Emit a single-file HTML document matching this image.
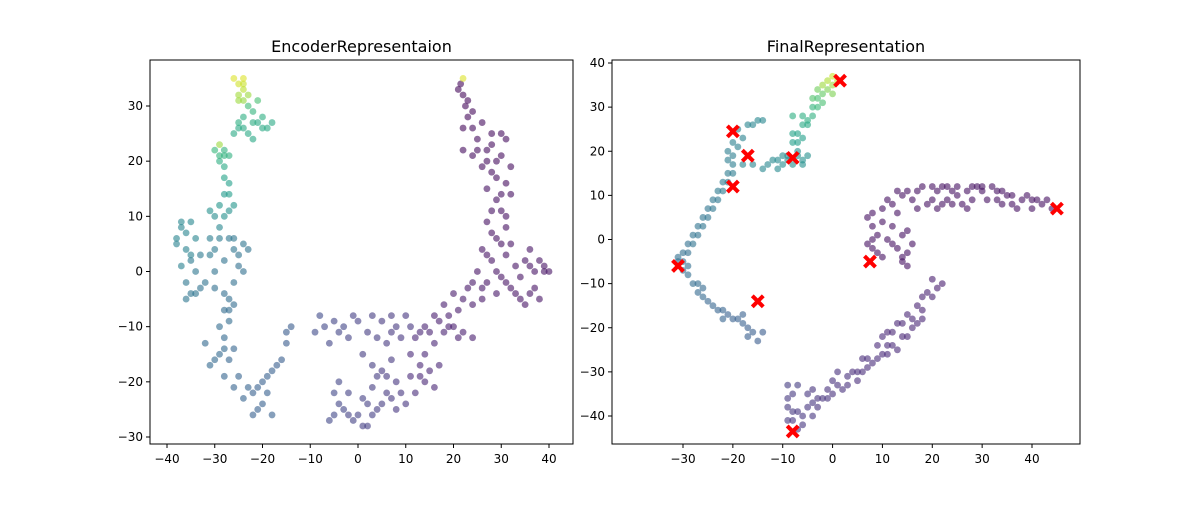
<!DOCTYPE html>
<html><head><meta charset="utf-8"><style>
body{margin:0;background:#fff;font-family:"Liberation Sans","DejaVu Sans",sans-serif}
svg text{font-family:"DejaVu Sans","Liberation Sans",sans-serif}
</style></head><body>
<svg id="fig" width="1200" height="500" xmlns="http://www.w3.org/2000/svg"></svg>
<script>
const leftPoints=[
[21.5,34,.02],[22,32,.02],[22.5,30,.02],[23,28,.02],[22,26,.02],[24,29,.02],[26,27,.03],[28,25,.03],[25,24,.03],[22,22,.03],[24,21,.03],[27,22,.03],[29,20,.03],[26,19,.03],[31,24,.03],[30,21,.03],[28,18,.03],[31,16,.03],[27,15,.04],[29,13,.04],[32,14,.04],[30,11,.04],[27,9,.04],[31,8,.04],[29,6,.04],[26,4,.05],[28,2,.05],[31,3,.05],[33,1,.05],[30,-1,.05],[27,-2,.05],[25,0,.05],[23,-3,.06],[26,-5,.06],[29,-4,.06],[32,-3,.05],[34,-5,.05],[36,-4,.05],[38,-5,.05],[35,2,.05],[37,0,.05],[39,1,.05],[40,0,.05],[36,4,.05],[34,-1,.05],[24,-6,.07],[22,-5,.07],[20,-4,.07],[18,-6,.08],[16,-8,.08],[14,-10,.09],[20,-10,.08],[22,-11,.08],[24,-12,.08],[18,-11,.09],[16,-13,.1],[14,-15,.1],[15,-18,.1],[14,-20,.1],[13,-17,.1],[12,-12,.1],[12,-22,.12],
[21,33,.02],[23,31,.02],[24,26,.03],[25,22,.03],[27,20,.03],[28,23,.03],[30,25,.03],[29,17,.03],[32,19,.03],[30,14,.04],[28,11,.04],[31,10,.04],[28,7,.04],[30,5,.04],[27,3,.05],[32,5,.05],[29,0,.05],[31,-2,.05],[33,-4,.05],[35,-6,.05],[37,-3,.05],[39,0,.05],[38,2,.05],[36,1,.05],[26,-3,.06],[24,-2,.06],[21,-7,.07],[19,-8,.08],[17,-9,.08],[15,-11,.09],[13,-11,.1],[19,-10,.08],[21,-12,.08],[17,-17,.1],[16,-21,.1],[13,-19,.1],[11,-15,.11],[11,-19,.11],
[5,-9,.16],[8,-10,.16],[10,-8,.15],[3,-8,.17],[0,-9,.18],[-3,-10,.2],[-5,-9,.2],[-8,-8,.22],[-9,-11,.22],[-6,-13,.2],[-2,-12,.19],[2,-11,.17],[6,-13,.16],[9,-12,.15],[1,-15,.17],[5,-18,.16],[8,-20,.15],[6,-22,.16],[3,-21,.17],[1,-23,.18],[4,-25,.17],[8,-25,.15],[10,-24,.15],[0,-26,.19],[-3,-25,.2],[-5,-22,.21],[-4,-20,.2],[-6,-27,.21],[-1,-27,.19],[2,-28,.18],[4,-19,.17],
[7,-8,.16],[-1,-8,.18],[-4,-11,.2],[-7,-10,.21],[4,-12,.17],[7,-11,.16],[11,-10,.15],[3,-17,.17],[6,-19,.16],[7,-23,.16],[5,-24,.17],[2,-24,.18],[-2,-22,.19],[-4,-24,.2],[-2,-26,.19],[1,-28,.18],[3,-26,.18],[9,-22,.15],[-5,-26,.21],[7,-16,.16],
[-14,-10,.28],[-15,-13,.28],[-16,-16,.29],[-18,-18,.3],[-20,-20,.3],[-22,-22,.3],[-20,-24,.3],[-18,-26,.3],[-22,-26,.3],[-24,-23,.31],[-26,-21,.31],[-28,-19,.32],[-27,-16,.32],[-29,-15,.33],[-31,-17,.33],[-32,-13,.33],[-28,-12,.33],[-27,-9,.34],[-26,-6,.34],[-28,-4,.35],[-27,-7,.34],[-30,-3,.36],[-33,-3,.37],[-35,-4,.38],[-36,-2,.39],[-34,0,.39],[-30,0,.37],[-28,2,.37],[-24,0,.36],[-25,3,.37],[-23,4,.37],[-26,6,.39],[-30,4,.4],[-31,3,.4],
[-15,-11,.28],[-17,-17,.29],[-19,-19,.3],[-21,-21,.3],[-19,-22,.3],[-21,-25,.3],[-23,-21,.31],[-25,-19,.31],[-26,-14,.32],[-28,-14,.33],[-30,-16,.33],[-29,-10,.34],[-28,-7,.34],[-27,-5,.35],[-26,-2,.36],[-25,1,.36],[-26,4,.38],[-24,5,.38],[-27,6,.39],[-32,-2,.37],[-34,-4,.38],[-36,-5,.39],[-35,2,.4],[-33,3,.4],[-29,6,.41],[-31,6,.42],
[-37,8,.45],[-38,6,.45],[-36,4,.44],[-35,9,.46],[-34,6,.45],[-37,1,.43],[-29,8,.46],[-28,10,.5],[-31,11,.5],[-26,12,.52],[-27,14,.55],[-28,17,.57],
[-38,5,.44],[-37,9,.46],[-36,7,.45],[-35,3,.44],[-30,10,.48],[-27,11,.5],[-29,12,.52],[-28,14,.54],[-27,16,.56],[-28,19,.6],
[-29,20,.62],[-28,22,.64],[-27,21,.63],[-30,22,.66],[-25,26,.6],[-23,25,.6],[-21,27,.6],[-20,26,.6],[-18,27,.6],[-22,29,.65],[-24,28,.62],[-21,31,.7],
[-26,25,.6],[-24,26,.6],[-22,24,.59],[-19,26,.6],[-20,28,.62],[-23,30,.68],[-22,27,.61],[-25,27,.62],[-28,21,.64],[-29,21,.65],
[-25,34,.93],[-24,35,.95],[-23,32,.85],[-25,31,.85],[-24,33,.9],[-29,23,.85],[22,35,.95],[-24,34,.92],[-25,32,.86],[-24,31,.84],[-26,35,.95]];
const rightPoints=[
[7,5,.04],[8,3,.04],[10,7,.04],[9,1,.04],[7,-1,.04],[12,3,.04],[11,0,.04],[14,1,.04],[15,-3,.04],[14,-5,.04],[13,-2,.04],[12,8,.04],[14,10,.04],[17,11,.04],[20,12,.04],[22,12,.04],[24,11,.04],[19,8,.04],[21,7,.04],[23,9,.04],[25,12,.04],[28,12,.04],[30,11,.04],[33,11,.04],[35,10,.04],[38,9,.04],[40,9,.04],[42,8,.04],[44,7,.04],[37,7,.04],[34,8,.04],[31,9,.04],[27,7,.04],[26,8,.04],[30,12,.04],[16,9,.04],[9,-3,.04],
[8,6,.04],[10,4,.04],[11,9,.04],[13,6,.04],[15,2,.04],[16,-1,.04],[15,-6,.04],[12,-1,.04],[8,0,.04],[13,11,.04],[15,11,.04],[18,12,.04],[21,11,.04],[23,12,.04],[25,10,.04],[27,11,.04],[29,12,.04],[32,12,.04],[34,11,.04],[36,10,.04],[39,10,.04],[41,9,.04],[43,9,.04],[20,9,.04],[22,8,.04],[24,8,.04],[28,9,.04],[33,9,.04],[36,8,.04],[40,7,.04],[17,7,.04],[8,-2,.04],[10,-4,.04],[14,-4,.04],
[20,-9,.08],[22,-10,.08],[19,-12,.09],[17,-15,.09],[18,-13,.09],[15,-17,.1],[13,-19,.1],[16,-20,.1],[18,-18,.1],[14,-22,.1],[11,-21,.1],[12,-24,.11],[10,-26,.11],[8,-28,.12],[6,-30,.12],[5,-32,.12],[2,-34,.13],[0,-35,.13],[3,-33,.13],[-2,-36,.14],[-3,-38,.14],[-4,-40,.15],[-6,-40,.15],[-8,-41,.15],[-9,-38,.16],[-8,-35,.16],[-9,-33,.17],[-7,-33,.17],[-5,-35,.15],[-4,-37,.15],[0,-32,.13],[4,-30,.12],[7,-27,.12],[9,-24,.11],[-7,-43,.15],
[21,-11,.08],[20,-13,.09],[18,-16,.09],[16,-18,.1],[14,-19,.1],[17,-19,.1],[12,-21,.1],[15,-22,.1],[13,-25,.11],[11,-24,.11],[9,-27,.12],[7,-29,.12],[5,-30,.12],[3,-31,.13],[1,-33,.13],[-1,-34,.13],[-1,-36,.14],[-3,-36,.14],[-5,-38,.15],[-7,-39,.15],[-9,-41,.16],[-8,-39,.16],[-6,-42,.15],[-9,-36,.16],[-4,-34,.14],[1,-30,.13],[6,-27,.12],[10,-22,.11],[11,-26,.11],
[-15,-23,.28],[-17,-20,.29],[-19,-18,.3],[-21,-17,.3],[-23,-16,.31],[-25,-14,.32],[-27,-12,.33],[-28,-10,.34],[-30,-7,.35],[-31,-5,.35],[-30,-3,.36],[-29,-1,.36],[-28,1,.37],[-27,3,.37],[-26,5,.38],[-25,7,.38],[-24,9,.39],[-23,11,.4],[-22,13,.4],[-21,15,.41],[-20,17,.42],[-21,20,.42],[-20,22,.43],[-19,25,.44],[-17,26,.45],[-15,27,.46],[-18,-17,.3],[-22,-18,.31],[-26,-11,.33],[-29,-6,.35],
[-16,-21,.29],[-18,-19,.3],[-20,-18,.3],[-22,-16,.31],[-24,-15,.32],[-26,-13,.33],[-27,-10,.34],[-29,-8,.35],[-30,-5,.35],[-31,-4,.36],[-29,-3,.36],[-28,-1,.37],[-27,1,.37],[-26,3,.38],[-25,5,.38],[-24,7,.39],[-23,9,.39],[-22,11,.4],[-21,13,.41],[-20,15,.41],[-20,19,.42],[-21,18,.42],[-19,21,.43],[-18,23,.44],[-16,26,.45],[-14,27,.46],[-17,-22,.29],[-14,-21,.28],
[-13,17,.46],[-11,18,.47],[-9,19,.48],[-7,20,.49],[-5,19,.5],[-6,18,.5],[-10,17,.48],
[-12,18,.47],[-10,19,.48],[-8,17,.49],[-6,17,.5],[-9,18,.48],[-7,19,.49],[-11,16,.47],[-14,16,.46],[-16,17,.45],[-18,17,.45],
[-8,22,.55],[-7,24,.57],[-6,26,.6],[-5,27,.62],[-4,30,.65],[-3,32,.7],[-2,33,.75],[-1,34,.8],[0,35,.85],[1,36,.9],[-8,28,.62],[-4,32,.72],
[-7,22,.55],[-8,24,.57],[-6,23,.56],[-5,26,.6],[-6,28,.62],[-4,28,.63],[-3,30,.67],[-2,31,.7],[-3,34,.78],[0,33,.8],[-1,36,.88],[-2,35,.85],[0,37,.92]];
const crossPoints=[[-31,-6],[-20,24.5],[-17,19],[-8,18.5],[-20,12],[-15,-14],[1.5,36],[45,7],[7.5,-5],[-8,-43.5]];
const leftXTicks=[-40,-30,-20,-10,0,10,20,30,40];
const leftYTicks=[-30,-20,-10,0,10,20,30];
const rightXTicks=[-30,-20,-10,0,10,20,30,40];
const rightYTicks=[-40,-30,-20,-10,0,10,20,30,40];

const NS="http://www.w3.org/2000/svg";
const svg=document.getElementById('fig');
function mk(t,a,p){const e=document.createElementNS(NS,t);for(const k in a)e.setAttribute(k,a[k]);(p||svg).appendChild(e);return e;}
const stops=[[68,1,84],[72,40,120],[62,74,137],[49,104,142],[38,130,142],[31,158,137],[53,183,121],[109,205,89],[180,222,44],[253,231,37]];
function viridis(t){t=Math.max(0,Math.min(1,t))*9;const i=Math.min(8,Math.floor(t)),f=t-i;const a=stops[i],b=stops[i+1];return `rgb(${a.map((v,j)=>Math.round(v+(b[j]-v)*f)).join(',')})`;}
function panel(name,box,xs,ys,xt,yt,pts,title){
  const g=mk('g',{});
  
  
  pts.forEach(p=>{const c=mk('circle',{cx:xs(p[0]),cy:ys(p[1]),r:3.4,fill:viridis(p[2]),'fill-opacity':0.6},g);
    
    });
  const r=mk('rect',{x:box[0],y:box[1],width:box[2]-box[0],height:box[3]-box[1],fill:'none',stroke:'#000','stroke-width':1},g);
  
  
  xt.forEach(v=>{const x=xs(v);mk('line',{x1:x,x2:x,y1:box[3],y2:box[3]+4,stroke:'#000'},g);
    const t=mk('text',{x:x,y:box[3]+19,'text-anchor':'middle','font-size':12},g);t.textContent=v<0?'\u2212'+(-v):v;
    
    });
  yt.forEach(v=>{const y=ys(v);mk('line',{x1:box[0]-4,x2:box[0],y1:y,y2:y,stroke:'#000'},g);
    const t=mk('text',{x:box[0]-7,y:y+4,'text-anchor':'end','font-size':12},g);t.textContent=v<0?'\u2212'+(-v):v;
    
    });
  const tt=mk('text',{x:(box[0]+box[2])/2,y:52,'text-anchor':'middle','font-size':16},g);tt.textContent=title;
  
  
  return g;
}
const lxs=x=>167+(x+40)*382/80, lys=y=>106+(30-y)*331/60;
panel('encoder-panel',[150,60,573,444],lxs,lys,leftXTicks,leftYTicks,leftPoints,'EncoderRepresentaion');
const rxs=x=>683+(x+30)*349/70, rys=y=>63+(40-y)*353/80;
const rg=panel('final-panel',[612,60,1080,444],rxs,rys,rightXTicks,rightYTicks,rightPoints,'FinalRepresentation');
crossPoints.forEach(p=>{const x=rxs(p[0]),y=rys(p[1]),s=5.5;
  const c=mk('path',{d:`M${x-s},${y-s}L${x+s},${y+s}M${x-s},${y+s}L${x+s},${y-s}`,stroke:'#f00','stroke-width':4},rg);
  
  });
</script>
</body></html>
